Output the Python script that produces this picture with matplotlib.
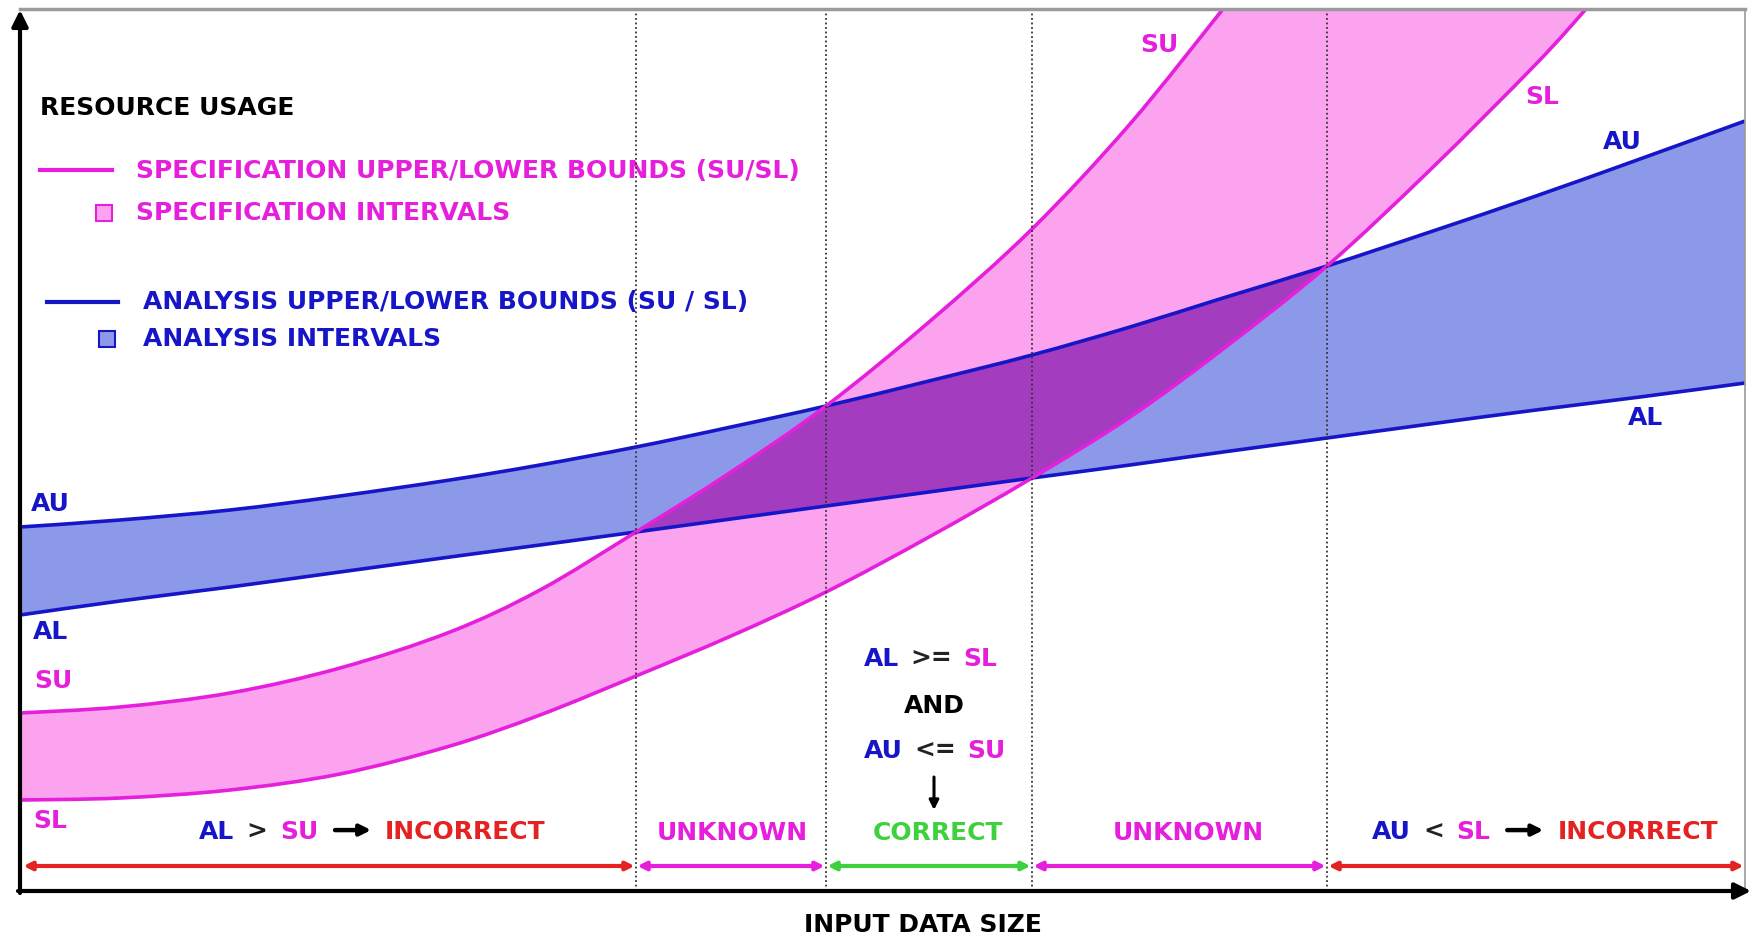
import numpy as np
import matplotlib
matplotlib.use("Agg")
import matplotlib.pyplot as plt
from matplotlib.path import Path
from matplotlib.patches import PathPatch
from matplotlib.text import OffsetFrom

# Curves (picture pixels, y grows downwards)
x_grid = [20, 120, 230, 340, 450, 540, 636, 731, 826, 929, 1032, 1130, 1223, 1327, 1430, 1536, 1640, 1745]
au_y = [527, 520, 510, 496, 480, 465, 447, 427, 406, 381, 355, 327, 298, 266, 232, 196, 159, 121]
al_y = [615, 601, 587, 572, 557, 545, 532, 519, 506, 492, 478, 465, 452, 438, 424, 410, 397, 383]
su_y = [713, 707, 693, 668, 632, 590, 532, 472, 406, 322, 229, 124, 9]          # leaves the frame at x=1223
sl_x = x_grid[:16] + [1586]
sl_y = [800, 798, 790, 774, 746, 715, 676, 636, 592, 537, 478, 417, 349, 266, 170, 64, 9]

# x positions where the bands cross (dotted lines)
cross_x = [636, 826, 1032, 1327]
zone_names = ["INCORRECT", "UNKNOWN", "CORRECT", "UNKNOWN", "INCORRECT"]

MAG = "#e51fdc"
BLUE = "#1616c8"
PINK = "#fba3ef"
LBLUE = "#8c99e8"
PURPLE = "#a33cbf"
RED = "#e42222"
GREEN = "#3dd23d"
DARK = "#222222"

plt.rcParams["font.family"] = ["DejaVu Sans"]
FS = 18
font = dict(fontsize=FS, fontweight="bold")

fig = plt.figure(figsize=(17.52, 9.38), dpi=100)
ax = fig.add_axes([0, 0, 1, 1])
ax.set_xlim(0, 1752)
ax.set_ylim(938, 0)
ax.axis("off")

left, right, top, bottom = 20, 1745, 9, 891
frame = plt.Rectangle((left, top), right - left, bottom - top, transform=ax.transData)


def segments(xs, ys):
    # smooth cubic pieces running through the read points
    pts = np.column_stack([xs, ys]).astype(float)
    n = len(pts)
    out = []
    for i in range(n - 1):
        p0, p1 = pts[max(i - 1, 0)], pts[i]
        p2, p3 = pts[i + 1], pts[min(i + 2, n - 1)]
        out.append((p1, p1 + (p2 - p0) / 6, p2 - (p3 - p1) / 6, p2))
    return out


def trace(segs, i, j, verts, codes):
    # append pieces from point i to point j (reversed when j < i)
    if j >= i:
        chosen = list(segs[i:j])
    else:
        chosen = [s[::-1] for s in segs[j:i][::-1]]
    verts.append(chosen[0][0])
    codes.append(Path.LINETO if verts[:-1] else Path.MOVETO)
    for s in chosen:
        verts.extend(s[1:])
        codes.extend([Path.CURVE4] * 3)


def make_path(parts, close=True):
    verts, codes = [], []
    for segs, i, j in parts:
        trace(segs, i, j, verts, codes)
    if close:
        verts.append(verts[0])
        codes.append(Path.CLOSEPOLY)
    return Path(verts, codes)


au_s = segments(x_grid, au_y)
al_s = segments(x_grid, al_y)
su_s = segments(x_grid[:len(su_y)], su_y)
sl_s = segments(sl_x, sl_y)
n_au, n_su, n_sl = len(au_y) - 1, len(su_y) - 1, len(sl_y) - 1

# specification band (pink)
p = ax.add_patch(PathPatch(make_path([(su_s, 0, n_su), (sl_s, n_sl, 0)]),
                           facecolor=PINK, edgecolor="none", zorder=1))
p.set_clip_path(frame)

# analysis band (blue)
ax.add_patch(PathPatch(make_path([(au_s, 0, n_au), (al_s, n_au, 0)]),
                       facecolor=LBLUE, edgecolor="none", zorder=2))

# overlap of both bands
i0, i1, i2, i3 = [x_grid.index(c) for c in cross_x]
ax.add_patch(PathPatch(make_path([(su_s, i0, i1), (au_s, i1, i3), (sl_s, i3, i2), (al_s, i2, i0)]),
                       facecolor=PURPLE, edgecolor="none", zorder=3))

# bound lines
for segs, n, col, z in [(au_s, n_au, BLUE, 4), (al_s, n_au, BLUE, 4),
                        (su_s, n_su, MAG, 5), (sl_s, n_sl, MAG, 5)]:
    ln = ax.add_patch(PathPatch(make_path([(segs, 0, n)], close=False),
                                facecolor="none", edgecolor=col, lw=2.6, zorder=z))
    ln.set_clip_path(frame)

# dotted separators
for cx in cross_x:
    ax.plot([cx, cx], [top, bottom], color="#333333", lw=1.3, ls=(0, (1, 1.5)), zorder=6)

# frame: grey top/right, black arrows for the axes
ax.plot([left, right], [top, top], color="#9a9a9a", lw=2.5, zorder=6)
ax.plot([right, right], [top, bottom], color="#9a9a9a", lw=1.2, zorder=6)
ax.annotate("", xy=(left, 10), xytext=(left, bottom + 2),
            arrowprops=dict(arrowstyle="-|>", color="black", lw=3, mutation_scale=24,
                            shrinkA=0, shrinkB=0), zorder=7)
ax.annotate("", xy=(1751, bottom), xytext=(left - 2, bottom),
            arrowprops=dict(arrowstyle="-|>", color="black", lw=3, mutation_scale=24,
                            shrinkA=0, shrinkB=0), zorder=7)

# zone range arrows along the bottom
zone_edges = [left + 2] + cross_x + [right]
zone_colors = [RED, MAG, GREEN, MAG, RED]
for a, b, c in zip(zone_edges[:-1], zone_edges[1:], zone_colors):
    ax.annotate("", xy=(b, 866), xytext=(a, 866),
                arrowprops=dict(arrowstyle="<|-|>", color=c, lw=3, mutation_scale=12,
                                shrinkA=1, shrinkB=1), zorder=7)

ARROW = "->"


def pieces_text(x, y, pieces, gap=9):
    # coloured words set one after another; ARROW draws a short black arrow
    prev = None
    extra = 0
    for txt, col in pieces:
        if txt == ARROW:
            ref = OffsetFrom(prev, (1, 0.58))
            ax.annotate("", xy=(12 + 26, 0), xycoords=ref, xytext=(12, 0), textcoords=ref,
                        arrowprops=dict(arrowstyle="-|>", color=col, lw=3.2, mutation_scale=16,
                                        shrinkA=0, shrinkB=0), zorder=8)
            extra = 12 + 26 + 10 - gap
            continue
        if prev is None:
            prev = ax.text(x, y, txt, color=col, ha="left", va="center", zorder=8, **font)
        else:
            prev = ax.annotate(txt, xy=(1, 0), xycoords=prev, xytext=(gap + extra, 0),
                               textcoords="offset points", ha="left", va="bottom",
                               color=col, zorder=8, **font)
            extra = 0
    return prev


# legend block
ax.text(40, 108, "RESOURCE USAGE", color="black", ha="left", va="center", **font)
ax.plot([40, 112], [170, 170], color=MAG, lw=3)
ax.text(136, 171, "SPECIFICATION UPPER/LOWER BOUNDS (SU/SL)", color=MAG, ha="left", va="center", **font)
ax.plot([104], [213], marker="s", ms=12, mfc=PINK, mec=MAG, mew=1.5)
ax.text(136, 213, "SPECIFICATION INTERVALS", color=MAG, ha="left", va="center", **font)
ax.plot([47, 118], [302, 302], color=BLUE, lw=3)
ax.text(143, 302, "ANALYSIS UPPER/LOWER BOUNDS (SU / SL)", color=BLUE, ha="left", va="center", **font)
ax.plot([107], [339], marker="s", ms=12, mfc=LBLUE, mec=BLUE, mew=1.5)
ax.text(143, 339, "ANALYSIS INTERVALS", color=BLUE, ha="left", va="center", **font)

# curve labels
ax.text(31, 504, "AU", color=BLUE, ha="left", va="center", **font)
ax.text(33, 632, "AL", color=BLUE, ha="left", va="center", **font)
ax.text(34, 681, "SU", color=MAG, ha="left", va="center", **font)
ax.text(33, 821, "SL", color=MAG, ha="left", va="center", **font)
ax.text(1159, 45, "SU", color=MAG, ha="center", va="center", **font)
ax.text(1542, 97, "SL", color=MAG, ha="center", va="center", **font)
ax.text(1622, 142, "AU", color=BLUE, ha="center", va="center", **font)
ax.text(1645, 418, "AL", color=BLUE, ha="center", va="center", **font)

# zone verdicts
pieces_text(199, 832, [("AL", BLUE), (">", DARK), ("SU", MAG), (ARROW, "black"), (zone_names[0], RED)])
ax.text(732, 833, zone_names[1], color=MAG, ha="center", va="center", **font)
ax.text(938, 833, zone_names[2], color=GREEN, ha="center", va="center", **font)
ax.text(1188, 833, zone_names[3], color=MAG, ha="center", va="center", **font)
pieces_text(1372, 832, [("AU", BLUE), ("<", DARK), ("SL", MAG), (ARROW, "black"), (zone_names[4], RED)])

# condition for the correct zone
pieces_text(864, 659, [("AL", BLUE), (">=", DARK), ("SL", MAG)], gap=8)
ax.text(934, 706, "AND", color="black", ha="center", va="center", **font)
pieces_text(864, 751, [("AU", BLUE), ("<=", DARK), ("SU", MAG)], gap=8)
ax.annotate("", xy=(934, 810), xytext=(934, 777),
            arrowprops=dict(arrowstyle="-|>", color="black", lw=2.2, mutation_scale=14,
                            shrinkA=0, shrinkB=0))

ax.text(923, 925, "INPUT DATA SIZE", color="black", ha="center", va="center", **font)

fig.savefig("out.png", dpi=100, facecolor="white")
